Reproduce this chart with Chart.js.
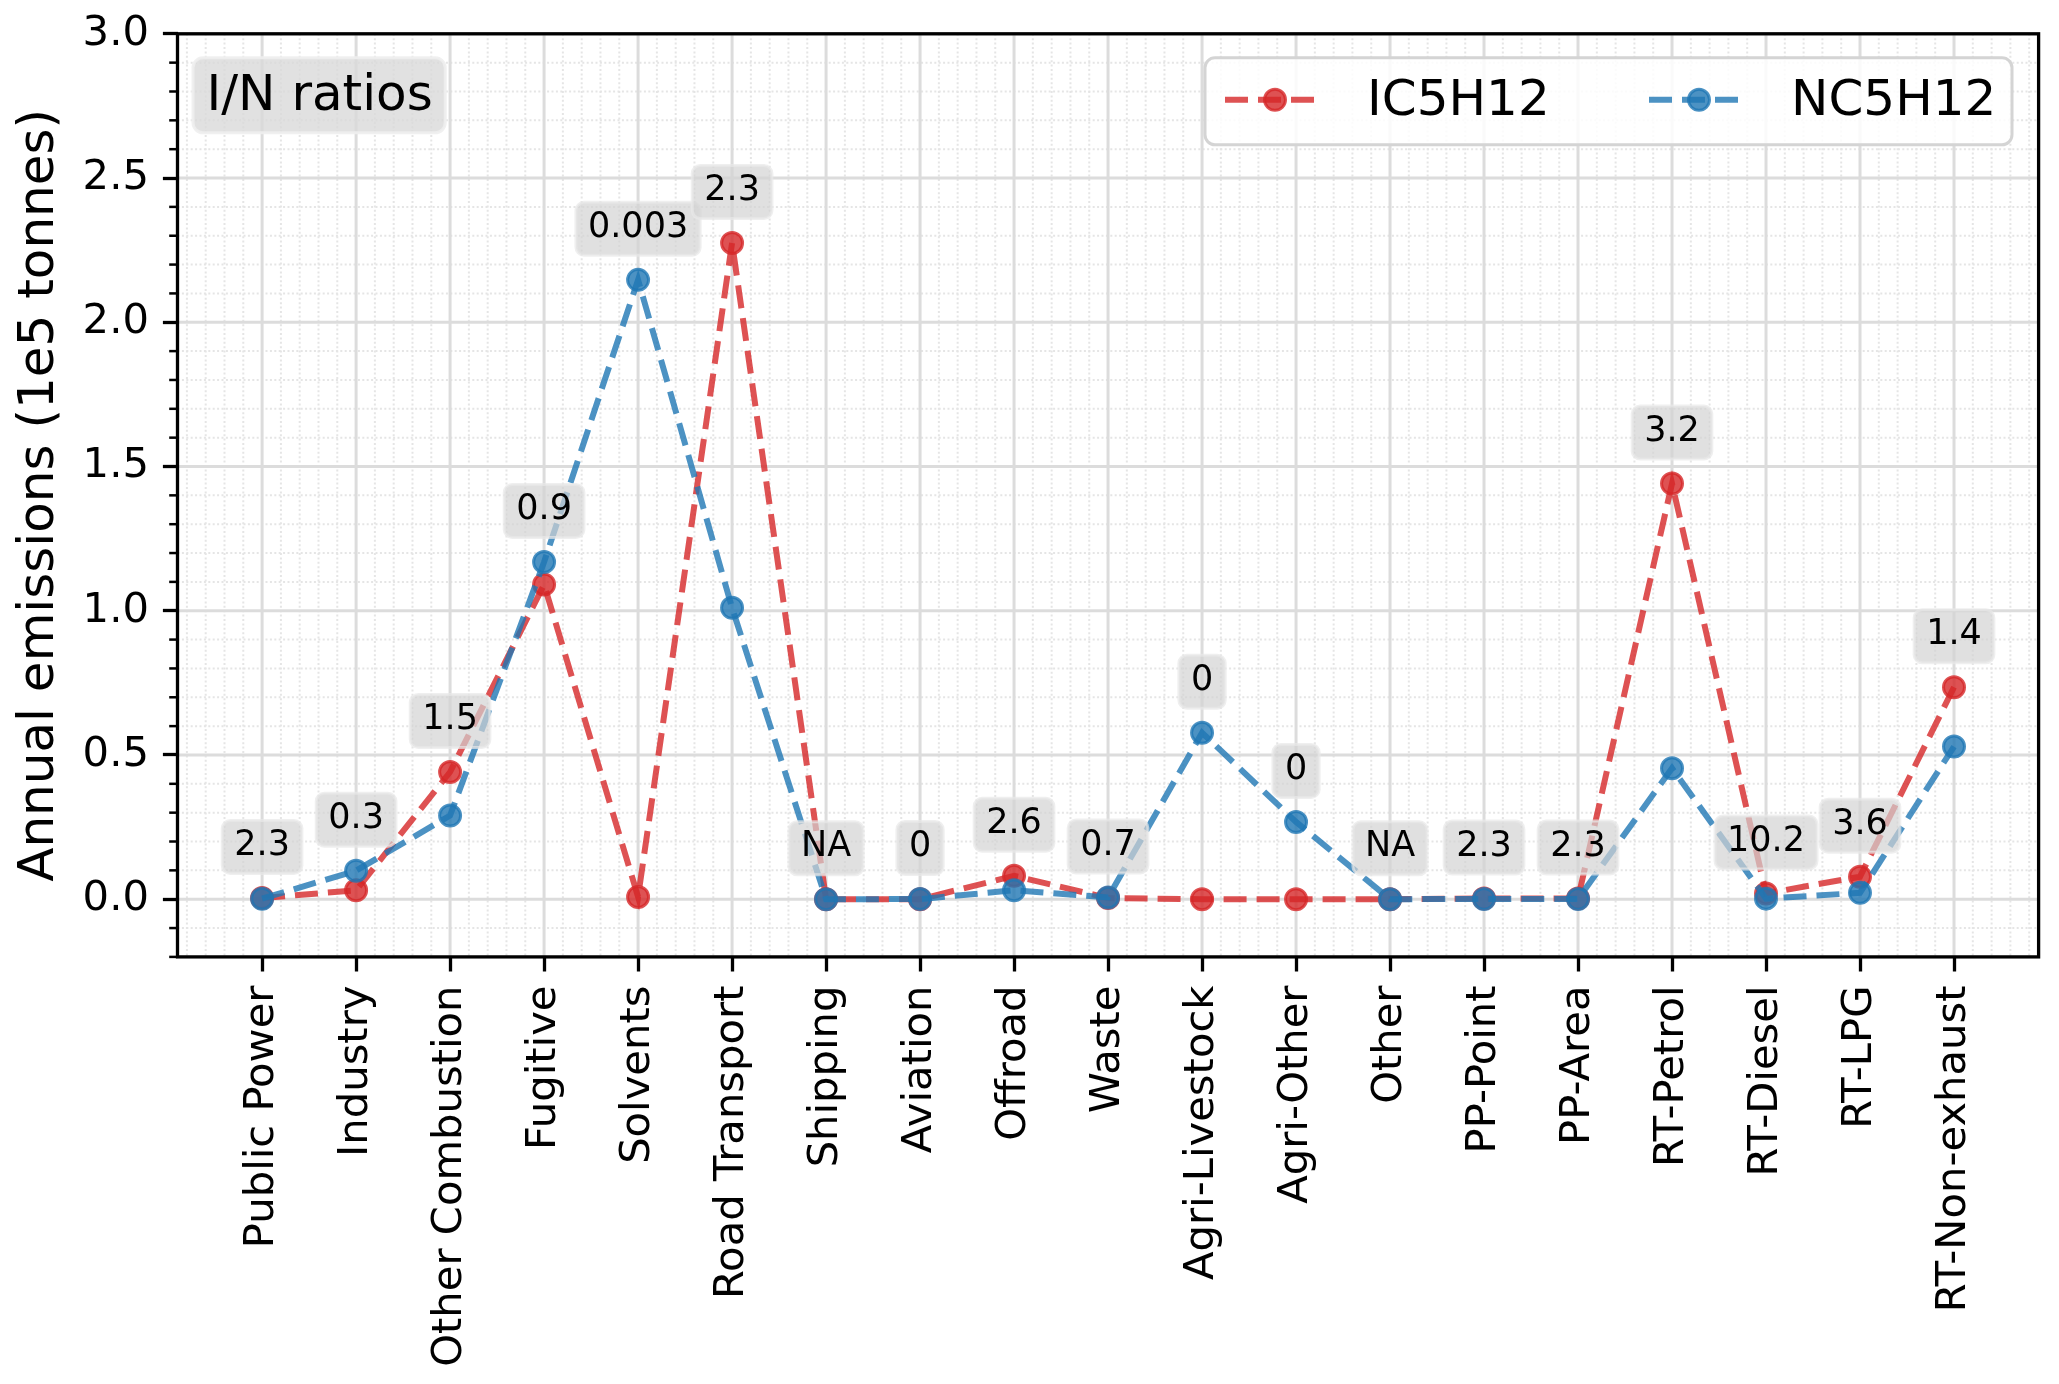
<!DOCTYPE html>
<html>
<head>
<meta charset="utf-8">
<script src="https://cdn.jsdelivr.net/npm/chart.js@4.4.1/dist/chart.umd.min.js"></script>
<style>
  html, body { margin: 0; padding: 0; background: #fff; }
  canvas { display: block; }
</style>
</head>
<body>
<canvas id="emissions_chart" width="2059" height="1384" style="width:2059px;height:1384px"></canvas>
<script>
// sectors on the x axis
var categories = ['Public Power', 'Industry', 'Other Combustion', 'Fugitive', 'Solvents',
    'Road Transport', 'Shipping', 'Aviation', 'Offroad', 'Waste', 'Agri-Livestock',
    'Agri-Other', 'Other', 'PP-Point', 'PP-Area', 'RT-Petrol', 'RT-Diesel', 'RT-LPG',
    'RT-Non-exhaust'];

// annual emissions, 1e5 tonnes
var ic5h12 = [0.004, 0.031, 0.441, 1.091, 0.008, 2.275, 0, 0, 0.081, 0.004, 0, 0, 0,
    0.0023, 0.0023, 1.441, 0.02, 0.078, 0.735];
var nc5h12 = [0.0017, 0.099, 0.290, 1.169, 2.147, 1.010, 0, 0.0005, 0.031, 0.006, 0.577,
    0.268, 0, 0.001, 0.001, 0.454, 0.002, 0.022, 0.529];

// I/N ratio printed above each sector
var ratioLabels = ['2.3', '0.3', '1.5', '0.9', '0.003', '2.3', 'NA', '0', '2.6', '0.7',
    '0', '0', 'NA', '2.3', '2.3', '3.2', '10.2', '3.6', '1.4'];

var yTicks = [0, 0.5, 1.0, 1.5, 2.0, 2.5, 3.0];

var FONT = "'DejaVu Sans', sans-serif";
var X_MIN = -0.9, X_MAX = 18.9, Y_MIN = -0.2, Y_MAX = 3.0;

function toPoints(values) {
    return values.map(function (v, i) { return { x: i, y: v }; });
}

function roundBox(ctx, x, y, w, h, r, fill, stroke, lw) {
    ctx.beginPath();
    ctx.roundRect(x, y, w, h, r);
    ctx.fillStyle = fill;
    ctx.fill();
    if (stroke) {
        ctx.lineWidth = lw;
        ctx.strokeStyle = stroke;
        ctx.stroke();
    }
}

function hLine(ctx, x1, x2, y) {
    ctx.beginPath(); ctx.moveTo(x1, y); ctx.lineTo(x2, y); ctx.stroke();
}
function vLine(ctx, x, y1, y2) {
    ctx.beginPath(); ctx.moveTo(x, y1); ctx.lineTo(x, y2); ctx.stroke();
}

// keep the plot box where the layout padding puts it
function noScalePadding(scale) {
    scale.paddingTop = 0;
    scale.paddingBottom = 0;
    scale.paddingLeft = 0;
    scale.paddingRight = 0;
}

// major + dotted minor grid, under the lines
var gridPlugin = {
    id: 'mplGrid',
    beforeDatasetsDraw: function (chart) {
        var ctx = chart.ctx, area = chart.chartArea;
        var xs = chart.scales.x, ys = chart.scales.y;
        var k, p;
        ctx.save();
        ctx.beginPath();
        ctx.rect(area.left, area.top, area.right - area.left, area.bottom - area.top);
        ctx.clip();

        ctx.strokeStyle = '#e5e5e5';
        ctx.lineWidth = 2;
        ctx.setLineDash([2, 2.4]);
        for (k = Math.ceil(X_MIN * 5); k <= Math.floor(X_MAX * 5); k++) {
            if (k % 5 === 0) continue;
            p = xs.getPixelForValue(k / 5);
            vLine(ctx, p, area.top, area.bottom);
        }
        for (k = Math.round(Y_MIN * 10); k <= Math.round(Y_MAX * 10); k++) {
            if (k % 5 === 0) continue;
            p = ys.getPixelForValue(k / 10);
            hLine(ctx, area.left, area.right, p);
        }

        ctx.setLineDash([]);
        ctx.strokeStyle = '#dcdcdc';
        ctx.lineWidth = 3;
        categories.forEach(function (c, i) {
            vLine(ctx, xs.getPixelForValue(i), area.top, area.bottom);
        });
        yTicks.forEach(function (v) {
            hLine(ctx, area.left, area.right, ys.getPixelForValue(v));
        });
        ctx.restore();
    }
};

// frame, minor y ticks, ratio labels, text box and legend
var overlayPlugin = {
    id: 'mplOverlay',
    afterDatasetsDraw: function (chart) {
        var ctx = chart.ctx, area = chart.chartArea;
        var xs = chart.scales.x, ys = chart.scales.y;
        var k, p;
        ctx.save();

        ctx.strokeStyle = '#000';
        ctx.lineWidth = 3.3;
        ctx.strokeRect(area.left, area.top, area.right - area.left, area.bottom - area.top);

        ctx.lineWidth = 2.5;
        for (k = Math.round(Y_MIN * 10); k <= Math.round(Y_MAX * 10); k++) {
            if (k % 5 === 0) continue;
            p = ys.getPixelForValue(k / 10);
            hLine(ctx, area.left - 8.3, area.left, p);
        }

        // ratio annotations
        ctx.font = '35px ' + FONT;
        ctx.textAlign = 'center';
        ctx.textBaseline = 'middle';
        ratioLabels.forEach(function (txt, i) {
            var top = Math.max(ic5h12[i], nc5h12[i]);
            var px = xs.getPixelForValue(i);
            var cy = ys.getPixelForValue(top) - 51;
            var w = ctx.measureText(txt).width + 24, h = 53;
            roundBox(ctx, px - w / 2, cy - h / 2, w, h, 8,
                'rgba(211,211,211,0.7)', 'rgba(232,232,232,0.7)', 3);
            ctx.fillStyle = '#000';
            ctx.fillText(txt, px, cy - 1);
        });

        // "I/N ratios" box
        ctx.font = '50px ' + FONT;
        ctx.textAlign = 'left';
        var tw = ctx.measureText('I/N ratios').width;
        roundBox(ctx, area.left + 15.5, area.top + 24, tw + 26, 75, 10,
            'rgba(218,218,218,0.8)', 'rgba(238,238,238,0.9)', 3);
        ctx.fillStyle = '#000';
        ctx.fillText('I/N ratios', area.left + 29, area.top + 63);

        // legend, two columns
        var bx = area.right - 26.6 - 807, by = area.top + 24;
        roundBox(ctx, bx, by, 807, 87, 10, 'rgba(255,255,255,0.85)', '#d4d4d4', 3);
        chart.data.datasets.forEach(function (ds, i) {
            var x0 = bx + 20 + i * 424, cy = by + 42;
            ctx.strokeStyle = ds.borderColor;
            ctx.lineWidth = ds.borderWidth;
            ctx.setLineDash(ds.borderDash);
            hLine(ctx, x0, x0 + 99, cy);
            ctx.setLineDash([]);
            ctx.beginPath();
            ctx.arc(x0 + 50, cy, ds.pointRadius, 0, Math.PI * 2);
            ctx.fillStyle = ds.pointBackgroundColor;
            ctx.fill();
            ctx.lineWidth = ds.pointBorderWidth;
            ctx.strokeStyle = ds.pointBorderColor;
            ctx.stroke();
            ctx.fillStyle = '#000';
            ctx.fillText(ds.label, x0 + 142, cy + 2);
        });
        ctx.restore();
    }
};

var RED = 'rgba(214,39,40,0.8)';
var BLUE = 'rgba(31,119,180,0.8)';

function lineSet(label, values, color, order) {
    return {
        label: label,
        data: toPoints(values),
        borderColor: color,
        backgroundColor: color,
        borderWidth: 6,
        borderDash: [23, 10],
        pointRadius: 10.5,
        pointBorderWidth: 3,
        pointBackgroundColor: color,
        pointBorderColor: color,
        tension: 0,
        fill: false,
        order: order
    };
}

var ctx_emissions = document.getElementById('emissions_chart').getContext('2d');
var emissions_chart = new Chart(ctx_emissions, {
    type: 'line',
    data: {
        datasets: [
            lineSet('IC5H12', ic5h12, RED, 1),
            lineSet('NC5H12', nc5h12, BLUE, 0)
        ]
    },
    options: {
        responsive: false,
        devicePixelRatio: 1,
        animation: false,
        events: [],
        layout: { padding: { left: 0, right: 20.4, top: 33.8, bottom: 0 } },
        plugins: {
            legend: { display: false },
            tooltip: { enabled: false }
        },
        scales: {
            x: {
                type: 'linear',
                bounds: 'data',
                min: X_MIN,
                max: X_MAX,
                afterBuildTicks: function (scale) {
                    scale.ticks = categories.map(function (c, i) { return { value: i }; });
                },
                afterFit: function (scale) {
                    scale.height = 427.1;
                    noScalePadding(scale);
                },
                grid: {
                    drawOnChartArea: false,
                    drawTicks: true,
                    tickLength: 14.6,
                    tickWidth: 3.3,
                    tickColor: '#000'
                },
                border: { display: false },
                ticks: {
                    autoSkip: false,
                    minRotation: 90,
                    maxRotation: 90,
                    padding: 14,
                    color: '#000',
                    font: { family: FONT, size: 41.7 },
                    callback: function (value) { return categories[value]; }
                }
            },
            y: {
                type: 'linear',
                bounds: 'data',
                min: Y_MIN,
                max: Y_MAX,
                afterBuildTicks: function (scale) {
                    scale.ticks = yTicks.map(function (v) { return { value: v }; });
                },
                afterFit: function (scale) {
                    scale.width = 177.5;
                    noScalePadding(scale);
                },
                grid: {
                    drawOnChartArea: false,
                    drawTicks: true,
                    tickLength: 14.6,
                    tickWidth: 3.3,
                    tickColor: '#000'
                },
                border: { display: false },
                ticks: {
                    padding: 14,
                    color: '#000',
                    font: { family: FONT, size: 41.7 },
                    callback: function (value) { return value.toFixed(1); }
                },
                title: {
                    display: true,
                    text: 'Annual emissions (1e5 tonnes)',
                    color: '#000',
                    font: { family: FONT, size: 50 },
                    padding: { top: 10, bottom: 0 }
                }
            }
        }
    },
    plugins: [gridPlugin, overlayPlugin]
});
</script>
</body>
</html>
